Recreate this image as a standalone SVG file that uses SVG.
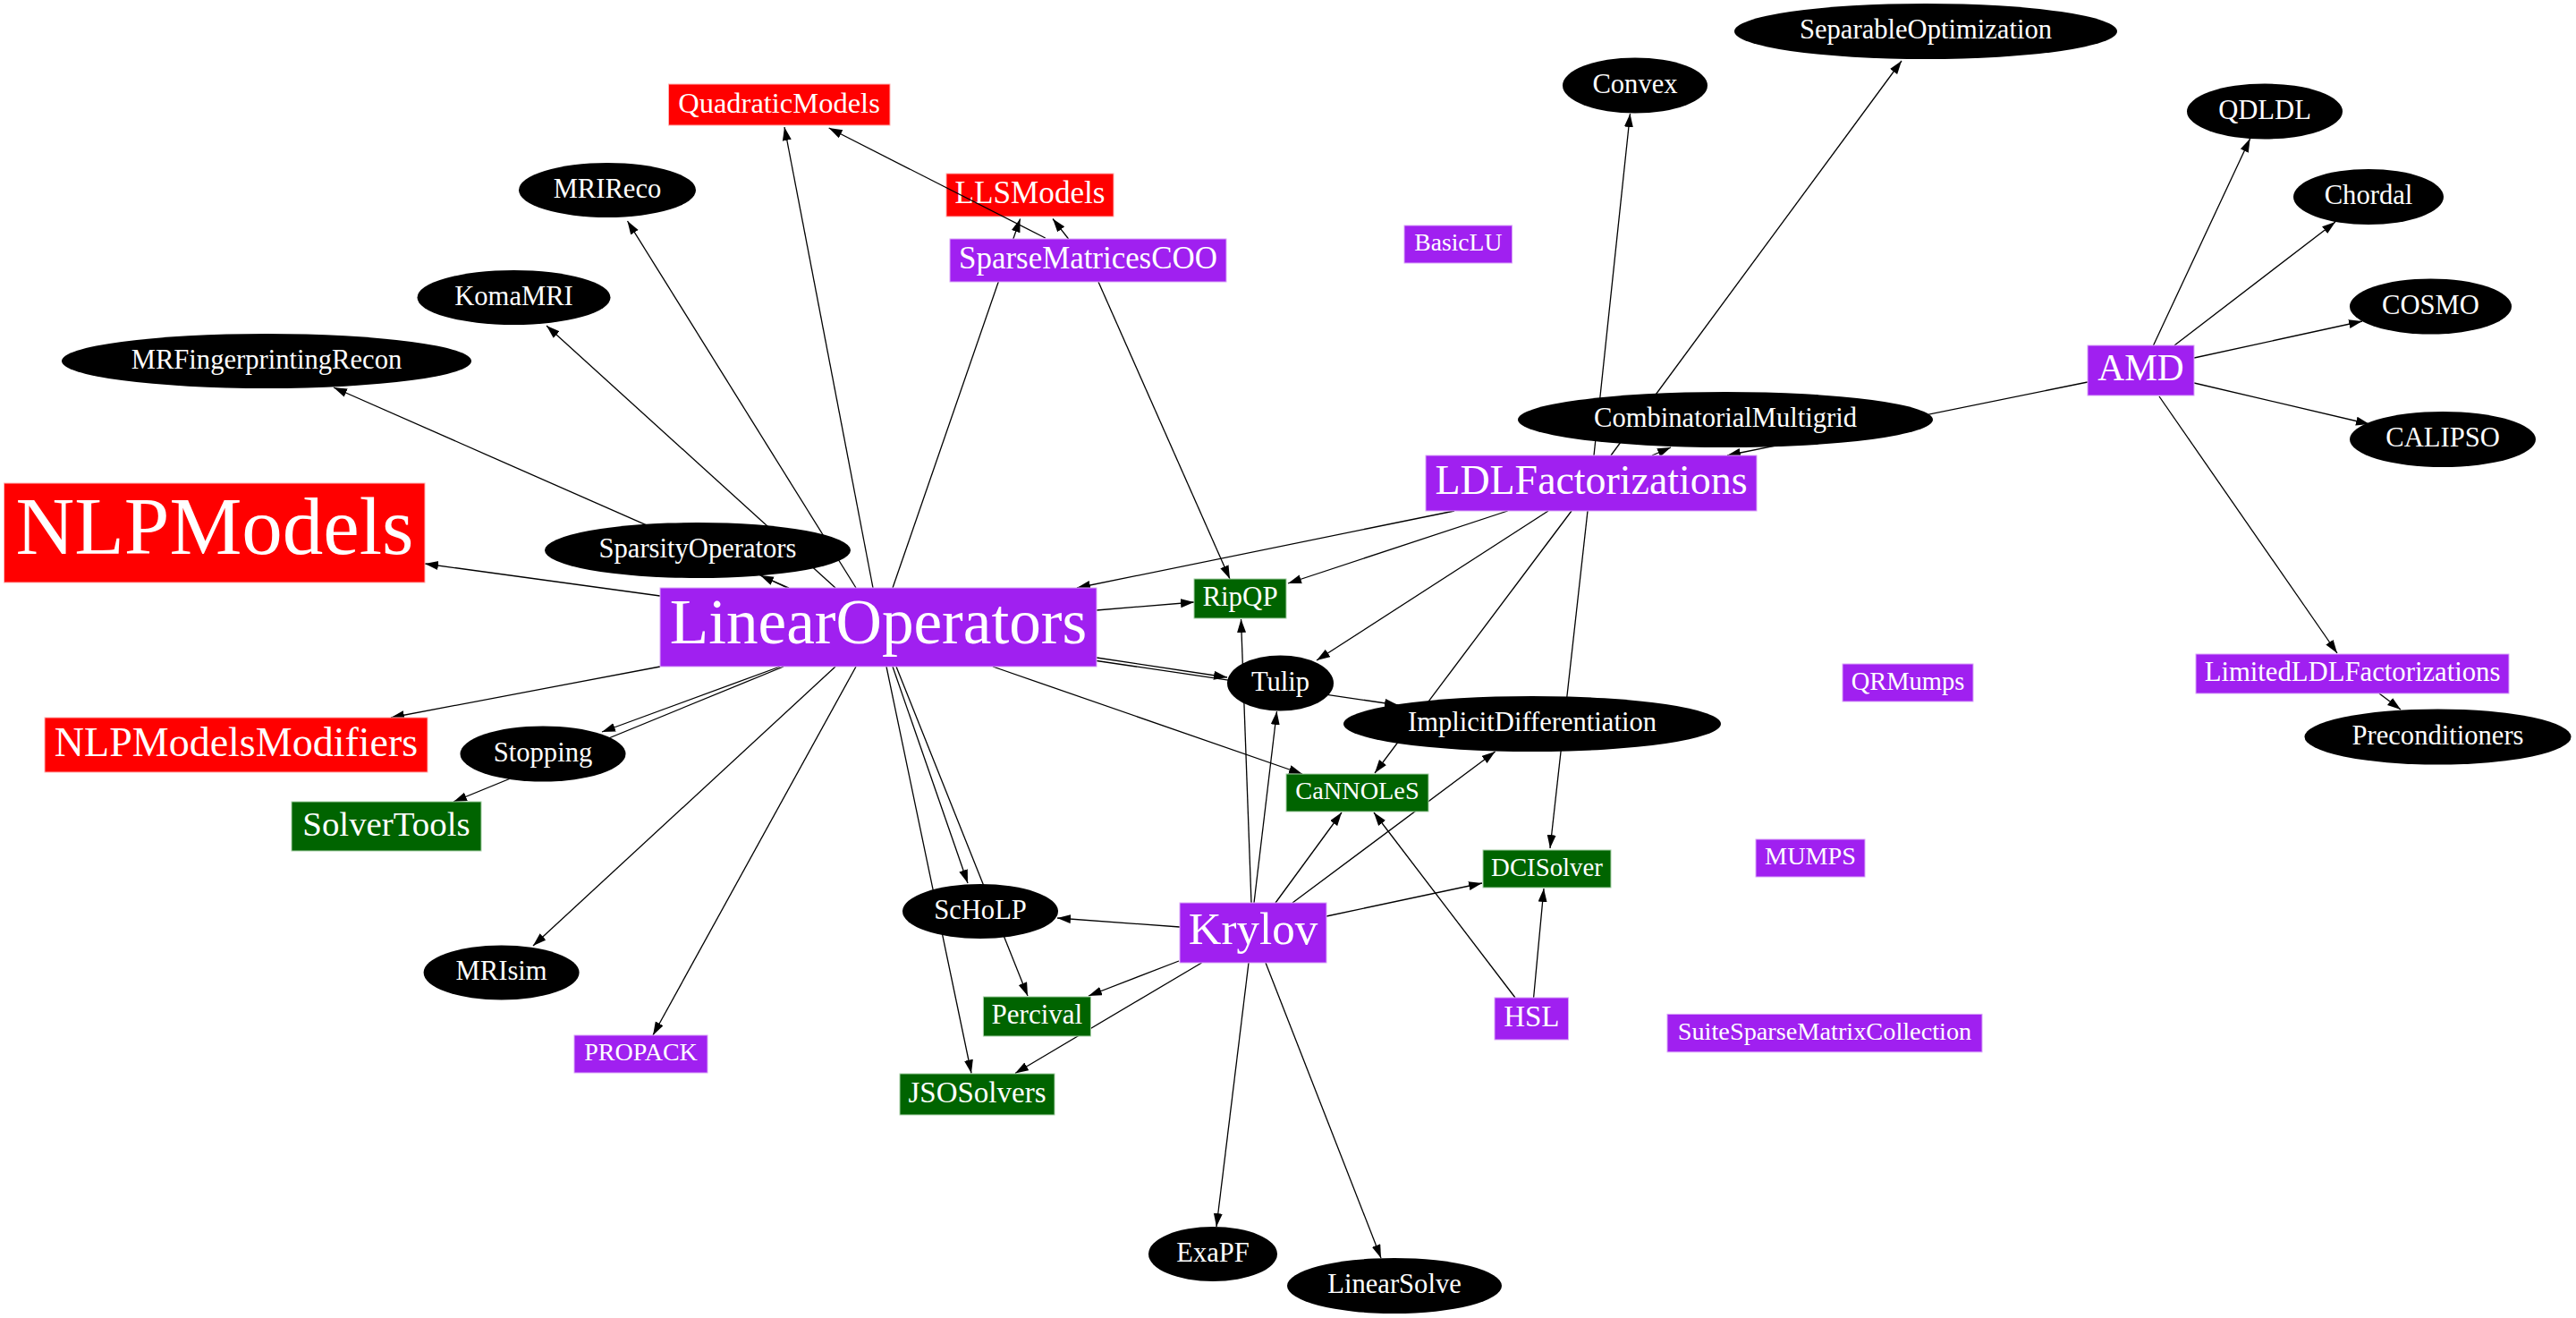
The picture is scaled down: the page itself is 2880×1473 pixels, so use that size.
<svg xmlns="http://www.w3.org/2000/svg" width="2880" height="1473" viewBox="0 0 2880 1473">
<defs>
<style>
.red{fill:#ff0000;stroke:#ffb0b0;stroke-width:1}
.pur{fill:#a020f0;stroke:#d9a6f7;stroke-width:1}
.grn{fill:#006400;stroke:#a6cfa6;stroke-width:1}
.blk{fill:#000000}
text{font-family:"Liberation Serif","Times New Roman",serif;fill:#ffffff;text-anchor:middle}
.e{fill:none;stroke:#000000;stroke-width:1.3;marker-end:url(#ah)}
</style>
<marker id="ah" markerUnits="userSpaceOnUse" markerWidth="16" markerHeight="11" refX="15" refY="5" orient="auto">
<path d="M0,0 L15,5 L0,10 z" fill="#000000"/>
</marker>
</defs>
<rect x="0" y="0" width="2880" height="1473" fill="#ffffff"/>

<g id="LLSModels"><rect class="red" x="1058" y="194" width="187" height="48"/><text x="1151.5" y="227" font-size="35.2">LLSModels</text></g>

<g id="connectors">
<path class="e" d="M738,666 L475,630"/>
<path class="e" d="M880,657 L850,643"/>
<path class="e" d="M882,657 L373,433"/>
<path class="e" d="M934,657 L611,364"/>
<path class="e" d="M957,657 L701.5,247"/>
<path class="e" d="M976,657 L877,142"/>
<path class="e" d="M998,657 L1140.6,244.5"/>
<path class="e" d="M1226,682 L1335,673"/>
<path class="e" d="M1226,735 L1372,757"/>
<path class="e" d="M1226,738.5 L1563,788"/>
<path class="e" d="M1110,745 L1456,865"/>
<path class="e" d="M998,745 L1082,987"/>
<path class="e" d="M1002,745 L1149,1113"/>
<path class="e" d="M991,745 L1086,1199.5"/>
<path class="e" d="M957,745 L730,1157"/>
<path class="e" d="M934,745 L596,1057"/>
<path class="e" d="M872,745 L673,818"/>
<path class="e" d="M876,745 L507,896"/>
<path class="e" d="M738,745 L437,802"/>
<path class="e" d="M1194.6,267 L1177,244.5"/>
<path class="e" d="M1168.7,266 L926.7,143"/>
<path class="e" d="M1228,315 L1375,647"/>
<path class="e" d="M1626,571 L1204,657"/>
<path class="e" d="M1685.6,571 L1440,652"/>
<path class="e" d="M1731,571 L1472,738"/>
<path class="e" d="M1757,571 L1537,864"/>
<path class="e" d="M1775,571 L1733,948"/>
<path class="e" d="M1782,509 L1822.5,127"/>
<path class="e" d="M1801,509 L2126,68"/>
<path class="e" d="M1847,509 L1868,500"/>
<path class="e" d="M2334,427 L1931,509"/>
<path class="e" d="M2407.5,386 L2515.6,155"/>
<path class="e" d="M2431,386 L2611,248"/>
<path class="e" d="M2453,400 L2641,359"/>
<path class="e" d="M2453,428 L2649,474"/>
<path class="e" d="M2414,443 L2613,730"/>
<path class="e" d="M2660,775 L2684,793"/>
<path class="e" d="M1319,1036 L1182,1026"/>
<path class="e" d="M1318,1074 L1217,1113"/>
<path class="e" d="M1343.5,1076 L1135,1199.5"/>
<path class="e" d="M1396,1076 L1360,1371"/>
<path class="e" d="M1415,1076 L1544,1406"/>
<path class="e" d="M1399,1009 L1387.5,692"/>
<path class="e" d="M1402,1009 L1427.5,795"/>
<path class="e" d="M1426,1009 L1500,908"/>
<path class="e" d="M1445,1009 L1671.6,840"/>
<path class="e" d="M1483,1024 L1657,987"/>
<path class="e" d="M1694,1115 L1536,908"/>
<path class="e" d="M1714.6,1115 L1726,993"/>
</g>

<g id="QuadraticModels"><rect class="red" x="747.5" y="94" width="247.5" height="46"/><text x="871" y="125.5" font-size="32.5">QuadraticModels</text></g>
<g id="NLPModels"><rect class="red" x="4.5" y="540" width="470.5" height="111"/><text x="240" y="619" font-size="91">NLPModels</text></g>
<g id="NLPModelsModifiers"><rect class="red" x="50" y="802" width="428" height="61"/><text x="264" y="844.5" font-size="46">NLPModelsModifiers</text></g>

<g id="SparseMatricesCOO"><rect class="pur" x="1062" y="267" width="309" height="48"/><text x="1216.5" y="300" font-size="34.9">SparseMatricesCOO</text></g>
<g id="BasicLU"><rect class="pur" x="1570" y="252" width="120.6" height="42"/><text x="1630.3" y="280.3" font-size="27.6">BasicLU</text></g>
<g id="LinearOperators"><rect class="pur" x="738" y="657" width="488" height="88"/><text x="982" y="719" font-size="71.2">LinearOperators</text></g>
<g id="LDLFactorizations"><rect class="pur" x="1594" y="509" width="370" height="62"/><text x="1779" y="552" font-size="45.9">LDLFactorizations</text></g>
<g id="AMD"><rect class="pur" x="2334" y="386" width="119" height="56"/><text x="2393.5" y="425" font-size="41.3">AMD</text></g>
<g id="QRMumps"><rect class="pur" x="2060" y="742" width="146" height="42"/><text x="2133" y="770.5" font-size="28.5">QRMumps</text></g>
<g id="LimitedLDLFactorizations"><rect class="pur" x="2455" y="731" width="350" height="44"/><text x="2630" y="761" font-size="30.7">LimitedLDLFactorizations</text></g>
<g id="MUMPS"><rect class="pur" x="1963" y="938" width="122" height="42"/><text x="2024" y="966.3" font-size="28.2">MUMPS</text></g>
<g id="Krylov"><rect class="pur" x="1319" y="1009" width="164" height="67"/><text x="1401" y="1055" font-size="51">Krylov</text></g>
<g id="HSL"><rect class="pur" x="1671" y="1115" width="82.5" height="47"/><text x="1712.3" y="1147" font-size="33">HSL</text></g>
<g id="SuiteSparseMatrixCollection"><rect class="pur" x="1864" y="1133.4" width="352" height="42.4"/><text x="2040" y="1162" font-size="28.3">SuiteSparseMatrixCollection</text></g>
<g id="PROPACK"><rect class="pur" x="642" y="1157" width="149" height="42"/><text x="716.5" y="1185.3" font-size="28">PROPACK</text></g>

<g id="RipQP"><rect class="grn" x="1335" y="647" width="103" height="44"/><text x="1386.5" y="677" font-size="30.9">RipQP</text></g>
<g id="CaNNOLeS"><rect class="grn" x="1438" y="865" width="159" height="42"/><text x="1517.5" y="893.4" font-size="28.3">CaNNOLeS</text></g>
<g id="DCISolver"><rect class="grn" x="1658" y="950" width="143" height="42"/><text x="1729.5" y="978.5" font-size="28.8">DCISolver</text></g>
<g id="SolverTools"><rect class="grn" x="326" y="896" width="212" height="55"/><text x="432" y="933.6" font-size="38.9">SolverTools</text></g>
<g id="Percival"><rect class="grn" x="1099.4" y="1114" width="120" height="44"/><text x="1159.4" y="1144" font-size="31">Percival</text></g>
<g id="JSOSolvers"><rect class="grn" x="1006" y="1200" width="173" height="46"/><text x="1092.5" y="1231.6" font-size="33">JSOSolvers</text></g>

<g id="MRIReco"><ellipse class="blk" cx="679" cy="212.5" rx="99" ry="30.5"/><text x="679" y="220.5" font-size="30.6">MRIReco</text></g>
<g id="KomaMRI"><ellipse class="blk" cx="574.5" cy="332.5" rx="108" ry="30.5"/><text x="574.5" y="340.5" font-size="30.6">KomaMRI</text></g>
<g id="MRFingerprintingRecon"><ellipse class="blk" cx="298" cy="403.5" rx="229" ry="30.5"/><text x="298" y="411.5" font-size="30.6">MRFingerprintingRecon</text></g>
<g id="SparsityOperators"><ellipse class="blk" cx="780" cy="615" rx="171" ry="31"/><text x="780" y="623" font-size="30.6">SparsityOperators</text></g>
<g id="Stopping"><ellipse class="blk" cx="607" cy="842.5" rx="92.5" ry="31"/><text x="607" y="850.5" font-size="30.6">Stopping</text></g>
<g id="Convex"><ellipse class="blk" cx="1828" cy="95.5" rx="81" ry="31"/><text x="1828" y="103.5" font-size="30.6">Convex</text></g>
<g id="SeparableOptimization"><ellipse class="blk" cx="2153" cy="35" rx="214" ry="31"/><text x="2153" y="43" font-size="30.6">SeparableOptimization</text></g>
<g id="QDLDL"><ellipse class="blk" cx="2532" cy="124.5" rx="87" ry="31"/><text x="2532" y="132.5" font-size="30.6">QDLDL</text></g>
<g id="Chordal"><ellipse class="blk" cx="2648" cy="220" rx="84" ry="31"/><text x="2648" y="228" font-size="30.6">Chordal</text></g>
<g id="COSMO"><ellipse class="blk" cx="2717.5" cy="342.5" rx="90.5" ry="31"/><text x="2717.5" y="350.5" font-size="30.6">COSMO</text></g>
<g id="CALIPSO"><ellipse class="blk" cx="2731" cy="491" rx="104" ry="31"/><text x="2731" y="499" font-size="30.6">CALIPSO</text></g>
<g id="CombinatorialMultigrid"><ellipse class="blk" cx="1929" cy="469" rx="232" ry="31"/><text x="1929" y="477" font-size="30.6">CombinatorialMultigrid</text></g>
<g id="Tulip"><ellipse class="blk" cx="1431.5" cy="763.5" rx="59.5" ry="31"/><text x="1431.5" y="771.5" font-size="30.6">Tulip</text></g>
<g id="ImplicitDifferentiation"><ellipse class="blk" cx="1713" cy="809" rx="211" ry="31"/><text x="1713" y="817" font-size="30.6">ImplicitDifferentiation</text></g>
<g id="Preconditioners"><ellipse class="blk" cx="2725.5" cy="823.5" rx="149" ry="31"/><text x="2725.5" y="831.5" font-size="30.6">Preconditioners</text></g>
<g id="MRIsim"><ellipse class="blk" cx="560.6" cy="1087" rx="87" ry="30.5"/><text x="560.6" y="1095" font-size="30.6">MRIsim</text></g>
<g id="ScHoLP"><ellipse class="blk" cx="1096" cy="1018.5" rx="87" ry="30.5"/><text x="1096" y="1026.5" font-size="30.6">ScHoLP</text></g>
<g id="ExaPF"><ellipse class="blk" cx="1356" cy="1401.5" rx="72" ry="30.5"/><text x="1356" y="1409.5" font-size="30.6">ExaPF</text></g>
<g id="LinearSolve"><ellipse class="blk" cx="1559" cy="1437" rx="120" ry="31"/><text x="1559" y="1445" font-size="30.6">LinearSolve</text></g>
</svg>
